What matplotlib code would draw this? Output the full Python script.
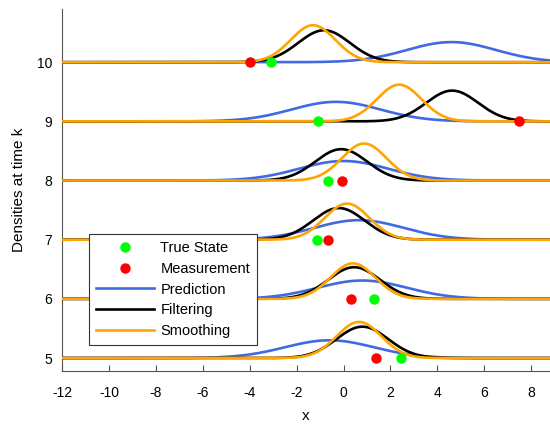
import numpy as np
import matplotlib.pyplot as plt

plt.rcParams['font.family'] = ['Liberation Sans', 'DejaVu Sans']
plt.rcParams['axes.unicode_minus'] = False

# time steps shown
levels = [5, 6, 7, 8, 9, 10]

# gaussian parameters: mean, sd, peak height
pred_mu = [-0.6, 0.8, 0.66, 0.0, -0.32, 4.6]
pred_sd = [1.9, 1.9, 1.9, 1.9, 1.9, 1.9]
pred_h = [0.30, 0.31, 0.33, 0.33, 0.33, 0.34]

filt_mu = [0.8, 0.45, -0.2, -0.1, 4.63, -0.83]
filt_sd = [1.1, 1.1, 1.1, 1.1, 1.1, 1.1]
filt_h = [0.53, 0.535, 0.535, 0.53, 0.52, 0.54]

smooth_mu = [0.66, 0.4, 0.15, 0.88, 2.37, -1.3]
smooth_sd = [0.95, 0.95, 0.95, 0.95, 0.95, 0.95]
smooth_h = [0.61, 0.60, 0.61, 0.625, 0.62, 0.625]

true_x = [2.46, 1.3, -1.13, -0.66, -1.08, -3.1]
meas_x = [1.4, 0.32, -0.66, -0.06, 7.5, -4.0]

x = np.linspace(-12, 8.8, 800)


def bump(mu, sd, h):
    return h * np.exp(-0.5 * ((x - mu) / sd) ** 2)


fig = plt.figure(figsize=(5.5, 4.26), dpi=100)
ax = fig.add_axes([0.1127, 0.129, 0.8873, 0.85])

for i, k in enumerate(levels):
    ax.plot(x, k + bump(pred_mu[i], pred_sd[i], pred_h[i]), color='#4169E1', lw=1.9,
            label='Prediction' if i == 0 else None, zorder=2)
    ax.plot(x, k + bump(filt_mu[i], filt_sd[i], filt_h[i]), color='black', lw=1.9,
            label='Filtering' if i == 0 else None, zorder=3)
    ax.plot(x, k + bump(smooth_mu[i], smooth_sd[i], smooth_h[i]), color='#FFA500', lw=1.9,
            label='Smoothing' if i == 0 else None, zorder=4)

ax.plot(true_x, levels, 'o', color='#00FF00', ms=6.5, ls='none', label='True State', zorder=5)
ax.plot(meas_x, levels, 'o', color='#FF0000', ms=6.5, ls='none', label='Measurement', zorder=5)

ax.set_xlim(-12, 8.8)
ax.set_ylim(4.78, 10.9)
ax.set_xticks(range(-12, 9, 2))
ax.set_yticks(levels)
ax.tick_params(direction='in', labelsize=10, color='#555555', length=4)
ax.tick_params(axis='x', pad=11)
ax.tick_params(axis='y', pad=7)
for s in ['top', 'right']:
    ax.spines[s].set_visible(False)
for s in ['left', 'bottom']:
    ax.spines[s].set_color('#555555')
ax.set_xlabel('x', fontsize=11, labelpad=6)
ax.set_ylabel('Densities at time k', fontsize=11, labelpad=8)

h, l = ax.get_legend_handles_labels()
order = [l.index(n) for n in ['True State', 'Measurement', 'Prediction', 'Filtering', 'Smoothing']]
leg = ax.legend([h[j] for j in order], [l[j] for j in order], loc='lower left',
                bbox_to_anchor=(0.055, 0.072), fontsize=10.5, fancybox=False,
                framealpha=1, edgecolor='#333333', handlelength=4.0, borderpad=0.5,
                labelspacing=0.45, handletextpad=0.4, borderaxespad=0)
leg.get_frame().set_linewidth(0.8)

fig.savefig('out.png', dpi=100)
